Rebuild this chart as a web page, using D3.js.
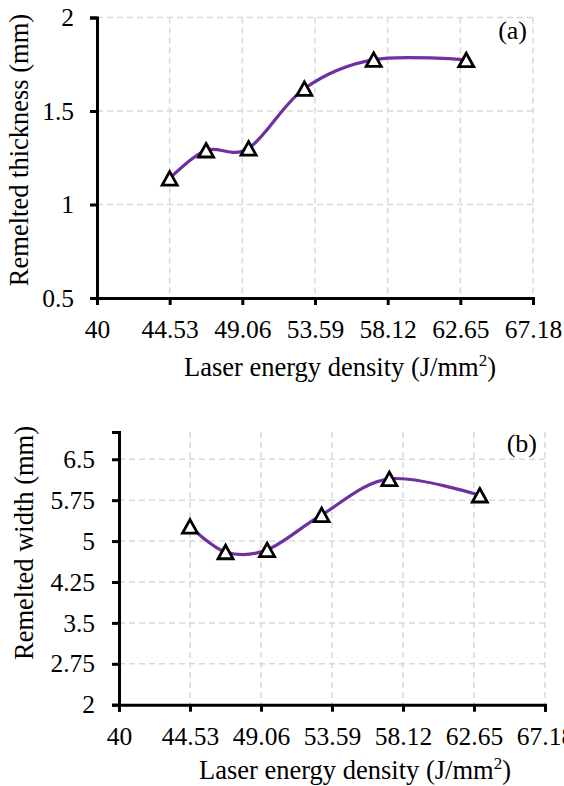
<!DOCTYPE html>
<html>
<head>
<meta charset="utf-8">
<script src="https://cdn.jsdelivr.net/npm/d3@7"></script>
<style>
  body { margin: 0; background: #fff; }
  svg { display: block; }
  text { font-family: "Liberation Serif", "Times New Roman", Times, "DejaVu Serif", serif; fill: #000; }
</style>
</head>
<body>
<div id="chart"></div>
<script>
// data
const energy = [44.53, 46.8, 49.45, 52.93, 57.25, 63.02]
const thickness = [1.14, 1.29, 1.30, 1.62, 1.775, 1.773]
const remeltWidth = [5.27, 4.80, 4.84, 5.48, 6.14, 5.84]
const xTicks = [40, 44.53, 49.06, 53.59, 58.12, 62.65, 67.18]
const thickTicks = [0.5, 1, 1.5, 2]
const widthTicks = [2, 2.75, 3.5, 4.25, 5, 5.75, 6.5]

const FONT = '"Liberation Serif", "Times New Roman", Times, "DejaVu Serif", serif'
const W = 564
const H = 786
const svg = d3.select("#chart").append("svg").attr("width", W).attr("height", H)
svg.append("rect").attr("width", W).attr("height", H).attr("fill", "#fff")

function panel(opt) {
    const x = d3.scaleLinear().domain([40, 67.18]).range([opt.left, opt.right])
    const y = d3.scaleLinear().domain(opt.yDomain).range([opt.bottom, opt.top])
    const g = svg.append("g").attr("font-family", FONT)

    // grid
    g.append("g").selectAll("line").data(xTicks.slice(1)).join("line")
        .attr("x1", d => x(d)).attr("x2", d => x(d))
        .attr("y1", opt.top).attr("y2", opt.bottom)
        .attr("stroke", "#d9d9d9").attr("stroke-width", 1.5).attr("stroke-dasharray", "6,4")
    g.append("g").selectAll("line").data(opt.yTicks.slice(1)).join("line")
        .attr("x1", opt.left).attr("x2", opt.right)
        .attr("y1", d => y(d)).attr("y2", d => y(d))
        .attr("stroke", "#d9d9d9").attr("stroke-width", 1.5).attr("stroke-dasharray", "6,4")

    // axes
    const xAxis = d3.axisBottom(x).tickValues(xTicks).tickFormat(d => d).tickSize(7).tickPadding(15)
    const yAxis = d3.axisLeft(y).tickValues(opt.yTicks).tickFormat(d => d).tickSize(7).tickPadding(opt.yPad)
    const xg = g.append("g").attr("transform", `translate(0, ${opt.bottom})`).call(xAxis)
    const yg = g.append("g").attr("transform", `translate(${opt.left}, 0)`).call(yAxis)
    ;[xg, yg].forEach(a => {
        a.attr("font-family", FONT).attr("font-size", 25.5)
        a.select(".domain").attr("stroke", "#000").attr("stroke-width", 3)
        a.selectAll(".tick line").attr("stroke", "#000").attr("stroke-width", 3)
        a.selectAll(".tick text").style("font-family", FONT).attr("font-size", 25.5)
    })
    xg.selectAll(".tick text").attr("dy", "0.71em")

    // curve
    const line = d3.line().x(d => x(d[0])).y(d => y(d[1])).curve(d3.curveCardinal.tension(0))
    const pts = energy.map((e, i) => [e, opt.values[i]])
    g.append("path").attr("d", line(pts)).attr("fill", "none")
        .attr("stroke", "#7030a0").attr("stroke-width", 3.2)

    // markers
    const tw = 15, th = 13.5
    g.selectAll(".mk").data(pts).join("path").attr("class", "mk")
        .attr("d", d => {
            const cx = x(d[0]), cy = y(d[1])
            return `M${cx},${cy - th / 2}L${cx + tw / 2},${cy + th / 2}L${cx - tw / 2},${cy + th / 2}Z`
        })
        .attr("fill", "#fff").attr("stroke", "#000").attr("stroke-width", 2.8).attr("stroke-linejoin", "miter")

    // titles
    g.append("text").attr("transform", `translate(${opt.yTitleX}, ${opt.yTitleY}) rotate(-90)`)
        .attr("text-anchor", "middle").attr("font-size", 26.5).style("font-family", FONT).text(opt.yTitle)
    const xt = g.append("text").attr("x", opt.xTitleX).attr("y", opt.xTitleY)
        .attr("text-anchor", "middle").attr("font-size", 26.5).style("font-family", FONT)
    xt.append("tspan").text("Laser energy density (J/mm")
    xt.append("tspan").attr("font-size", 17).attr("dy", -10).text("2")
    xt.append("tspan").attr("dy", 10).text(")")
    g.append("text").attr("x", opt.tagX).attr("y", opt.tagY).attr("text-anchor", "end")
        .attr("font-size", 26).style("font-family", FONT).text(opt.tag)
}

panel({
    left: 97, right: 533, top: 17.5, bottom: 298,
    yDomain: [0.5, 2], yTicks: thickTicks, values: thickness, yPad: 16,
    yTitle: "Remelted thickness (mm)", yTitleX: 28, yTitleY: 150,
    xTitleX: 340, xTitleY: 376, tag: "(a)", tagX: 527, tagY: 39
})
panel({
    left: 119, right: 545, top: 432, bottom: 704.7,
    yDomain: [2, 7], yTicks: widthTicks, values: remeltWidth, yPad: 17,
    yTitle: "Remelted width (mm)", yTitleX: 33, yTitleY: 543,
    xTitleX: 355, xTitleY: 779, tag: "(b)", tagX: 537, tagY: 452
})
</script>
</body>
</html>
